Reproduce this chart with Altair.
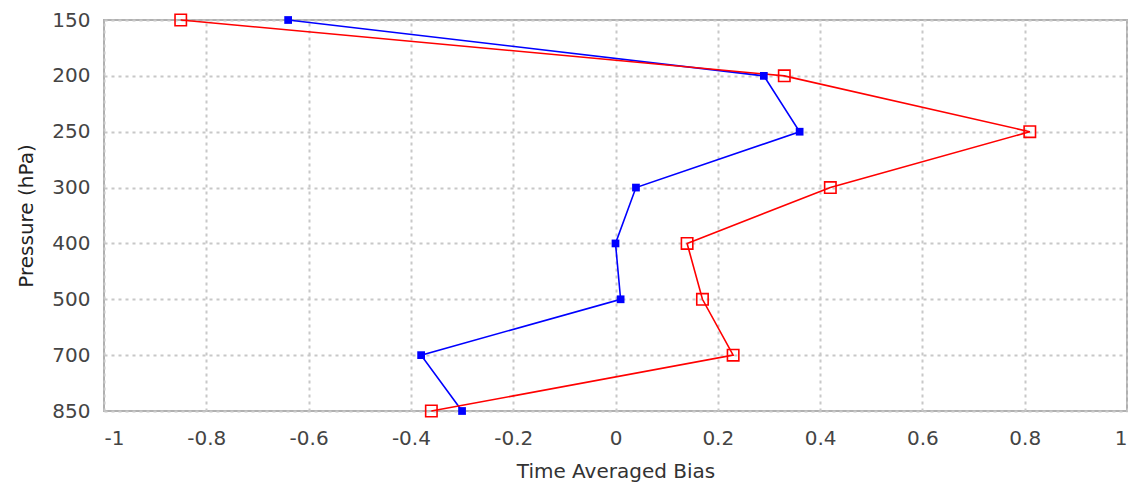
import altair as alt
import pandas as pd

levels = ["150", "200", "250", "300", "400", "500", "700", "850"]
blue_vals = [-0.64, 0.29, 0.36, 0.04, 0.0, 0.01, -0.38, -0.30]
red_vals = [-0.85, 0.33, 0.81, 0.42, 0.14, 0.17, 0.23, -0.36]
x_ticks = [-1, -0.8, -0.6, -0.4, -0.2, 0, 0.2, 0.4, 0.6, 0.8, 1]

rows = []
for i, lv in enumerate(levels):
    rows.append({"level": lv, "order": i, "bias": blue_vals[i], "series": "blue"})
for i, lv in enumerate(levels):
    rows.append({"level": lv, "order": i, "bias": red_vals[i], "series": "red"})
df = pd.DataFrame(rows)

label_expr = ("datum.value < 0 ? '-' + format(-datum.value, '~g') : "
              "format(datum.value, '~g')")

x_enc = alt.X("bias:Q", title="Time Averaged Bias",
              scale=alt.Scale(domain=[-1, 1], nice=False, zero=False),
              axis=alt.Axis(values=x_ticks, labelExpr=label_expr, ticks=False, domain=False,
                            grid=True, gridDash=[3, 4], gridColor="#c8c8c8", gridWidth=2,
                            labelFontSize=20, labelPadding=17, titleFontSize=20,
                            titlePadding=13, labelColor="#444", titleColor="#333",
                            labelFont="DejaVu Sans", titleFont="DejaVu Sans",
                            titleFontWeight="normal"))
y_enc = alt.Y("level:O", title="Pressure (hPa)",
              scale=alt.Scale(domain=levels, padding=0),
              axis=alt.Axis(ticks=False, domain=False, grid=True, gridDash=[3, 4],
                            gridColor="#c8c8c8", gridWidth=2,
                            labelFontSize=20, labelPadding=14, titleFontSize=20,
                            titlePadding=15, labelColor="#444", titleColor="#222",
                            labelFont="DejaVu Sans", titleFont="DejaVu Sans",
                            titleFontWeight="normal"))
color_enc = alt.Color("series:N", scale=alt.Scale(domain=["blue", "red"],
                                                  range=["#0000ff", "#ff0000"]),
                      legend=None)

base = alt.Chart(df)
lines = base.mark_line(strokeWidth=1.6).encode(
    x=x_enc, y=y_enc, color=color_enc, detail="series:N", order="order:Q")

blue_pts = base.transform_filter(alt.datum.series == "blue").mark_point(
    shape="square", filled=True, size=60, opacity=1).encode(
    x=x_enc, y=y_enc, color=color_enc)
red_pts = base.transform_filter(alt.datum.series == "red").mark_point(
    shape="square", filled=False, size=130, strokeWidth=1.6, opacity=1).encode(
    x=x_enc, y=y_enc, color=color_enc)

chart = (lines + red_pts + blue_pts).properties(
    width=1023, height=391,
    autosize=alt.AutoSizeParams(type="none"),
    padding={"left": 96, "top": 12, "right": 1, "bottom": 72},
).configure_view(stroke="#b0b0b0", strokeWidth=2)

chart.save("out.html", embed_options={"renderer": "svg", "actions": False})
